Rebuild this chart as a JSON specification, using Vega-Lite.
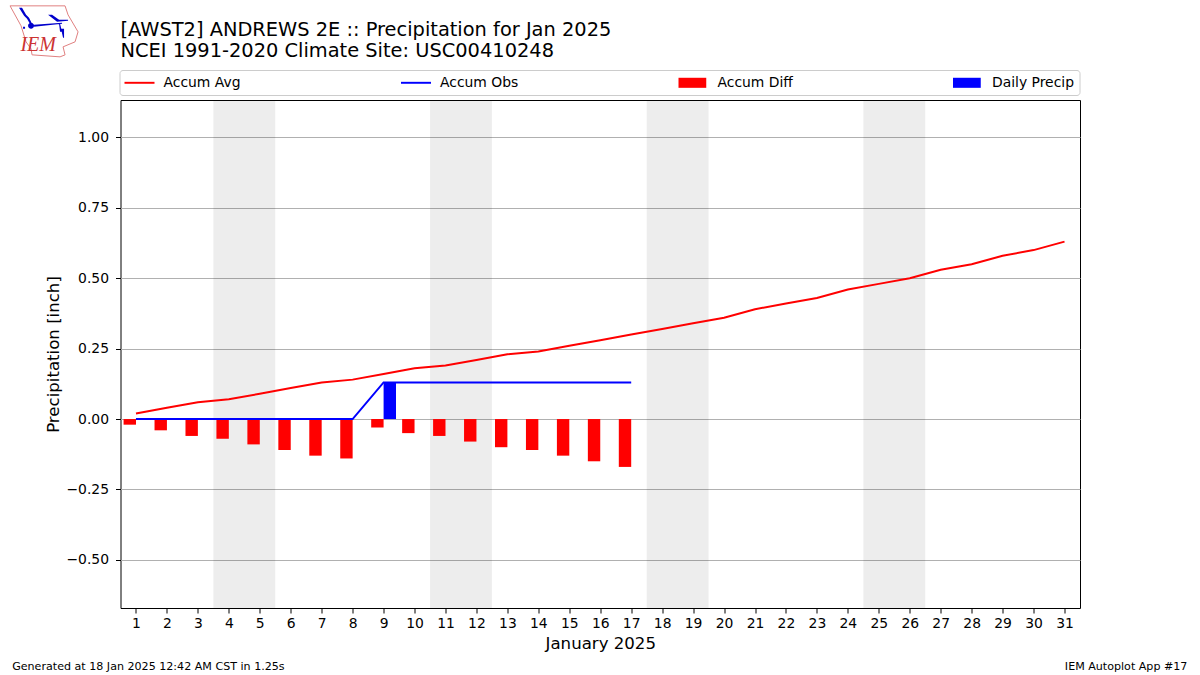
{
"$schema":"https://vega.github.io/schema/vega-lite/v6.json",
"width":959.5,"height":508,
"autosize":{"type":"none"},
"padding":{"left":120.5,"top":100,"right":120,"bottom":67},
"background":"white",
"title":{"text":["[AWST2] ANDREWS 2E :: Precipitation for Jan 2025","NCEI 1991-2020 Climate Site: USC00410248"],"anchor":"start","frame":"group","font":"DejaVu Sans","fontSize":19.4,"fontWeight":"normal","color":"black","lineHeight":21,"offset":-58},
"config":{"view":{"stroke":"black","strokeWidth":1},"font":"DejaVu Sans",
"axis":{"labelFont":"DejaVu Sans","titleFont":"DejaVu Sans","labelFontSize":13.9,"titleFontSize":16.6,"titleFontWeight":"normal","labelColor":"black","titleColor":"black","tickColor":"black","tickSize":5,"tickWidth":1,"labelPadding":3,"domain":false}},
"datasets":{
"spans":[{"start":3.5,"end":5.5},{"start":10.5,"end":12.5},{"start":17.5,"end":19.5},{"start":24.5,"end":26.5}],
"series":[
{"day":1,"series":"Accum Avg","value":0.02},{"day":2,"series":"Accum Avg","value":0.04},{"day":3,"series":"Accum Avg","value":0.06},{"day":4,"series":"Accum Avg","value":0.07},{"day":5,"series":"Accum Avg","value":0.09},{"day":6,"series":"Accum Avg","value":0.11},{"day":7,"series":"Accum Avg","value":0.13},{"day":8,"series":"Accum Avg","value":0.14},{"day":9,"series":"Accum Avg","value":0.16},{"day":10,"series":"Accum Avg","value":0.18},{"day":11,"series":"Accum Avg","value":0.19},{"day":12,"series":"Accum Avg","value":0.21},{"day":13,"series":"Accum Avg","value":0.23},{"day":14,"series":"Accum Avg","value":0.24},{"day":15,"series":"Accum Avg","value":0.26},{"day":16,"series":"Accum Avg","value":0.28},{"day":17,"series":"Accum Avg","value":0.30},{"day":18,"series":"Accum Avg","value":0.32},{"day":19,"series":"Accum Avg","value":0.34},{"day":20,"series":"Accum Avg","value":0.36},{"day":21,"series":"Accum Avg","value":0.39},{"day":22,"series":"Accum Avg","value":0.41},{"day":23,"series":"Accum Avg","value":0.43},{"day":24,"series":"Accum Avg","value":0.46},{"day":25,"series":"Accum Avg","value":0.48},{"day":26,"series":"Accum Avg","value":0.50},{"day":27,"series":"Accum Avg","value":0.53},{"day":28,"series":"Accum Avg","value":0.55},{"day":29,"series":"Accum Avg","value":0.58},{"day":30,"series":"Accum Avg","value":0.60},{"day":31,"series":"Accum Avg","value":0.63},
{"day":1,"series":"Accum Obs","value":0},{"day":2,"series":"Accum Obs","value":0},{"day":3,"series":"Accum Obs","value":0},{"day":4,"series":"Accum Obs","value":0},{"day":5,"series":"Accum Obs","value":0},{"day":6,"series":"Accum Obs","value":0},{"day":7,"series":"Accum Obs","value":0},{"day":8,"series":"Accum Obs","value":0},{"day":9,"series":"Accum Obs","value":0.13},{"day":10,"series":"Accum Obs","value":0.13},{"day":11,"series":"Accum Obs","value":0.13},{"day":12,"series":"Accum Obs","value":0.13},{"day":13,"series":"Accum Obs","value":0.13},{"day":14,"series":"Accum Obs","value":0.13},{"day":15,"series":"Accum Obs","value":0.13},{"day":16,"series":"Accum Obs","value":0.13},{"day":17,"series":"Accum Obs","value":0.13},
{"day":1,"series":"Accum Diff","value":-0.02},{"day":2,"series":"Accum Diff","value":-0.04},{"day":3,"series":"Accum Diff","value":-0.06},{"day":4,"series":"Accum Diff","value":-0.07},{"day":5,"series":"Accum Diff","value":-0.09},{"day":6,"series":"Accum Diff","value":-0.11},{"day":7,"series":"Accum Diff","value":-0.13},{"day":8,"series":"Accum Diff","value":-0.14},{"day":9,"series":"Accum Diff","value":-0.03},{"day":10,"series":"Accum Diff","value":-0.05},{"day":11,"series":"Accum Diff","value":-0.06},{"day":12,"series":"Accum Diff","value":-0.08},{"day":13,"series":"Accum Diff","value":-0.10},{"day":14,"series":"Accum Diff","value":-0.11},{"day":15,"series":"Accum Diff","value":-0.13},{"day":16,"series":"Accum Diff","value":-0.15},{"day":17,"series":"Accum Diff","value":-0.17},
{"day":9,"series":"Daily Precip","value":0.13}
]
},
"data":{"name":"series"},
"encoding":{
"x":{"field":"day","type":"quantitative","scale":{"domain":[0.5,31.5],"nice":false,"zero":false,"padding":0},"axis":{"values":[1,2,3,4,5,6,7,8,9,10,11,12,13,14,15,16,17,18,19,20,21,22,23,24,25,26,27,28,29,30,31],"format":"d","grid":false,"title":"January 2025","titleY":27}},
"y":{"field":"value","type":"quantitative","scale":{"domain":[-0.671,1.133],"nice":false,"zero":false},"axis":{"values":[-0.5,-0.25,0,0.25,0.5,0.75,1],"labelExpr":"replace(format(datum.value,'.2f'),'-','−')","grid":true,"gridColor":"#b0b0b0","gridWidth":1,"labelPadding":7,"title":"Precipitation [inch]","titleX":-59}},
"color":{"field":"series","type":"nominal","scale":{"domain":["Accum Avg","Accum Obs","Accum Diff","Daily Precip"],"range":["#ff0000","#0000ff","#ff0000","#0000ff"]},"legend":{"title":null,"orient":"none","legendX":-1,"legendY":-30,"direction":"horizontal","columns":4,"gridAlign":"each","columnPadding":159.5,"padding":5,"fillColor":"white","strokeColor":"#cccccc","cornerRadius":3,"symbolSize":225,"symbolStrokeWidth":0,"labelOffset":24,"labelFontSize":13.9,"labelFont":"DejaVu Sans","labelColor":"black","values":["Accum Avg","Accum Obs","Accum Diff","Daily Precip"]}}
},
"layer":[
{"data":{"name":"spans"},"mark":{"type":"rect","fill":"#000000","fillOpacity":0.07},"encoding":{"x":{"field":"start","type":"quantitative"},"x2":{"field":"end"},"y":{"value":0},"y2":{"value":508},"color":{"value":"#000000"}}},
{"transform":[{"filter":"datum.series==='Accum Diff'"}],"mark":{"type":"bar","orient":"vertical","width":12.4,"xOffset":-6.2},"encoding":{"y2":{"datum":0}}},
{"transform":[{"filter":"datum.series==='Daily Precip'"}],"mark":{"type":"bar","orient":"vertical","width":12.4,"xOffset":6.2},"encoding":{"y2":{"datum":0}}},
{"transform":[{"filter":"datum.series==='Accum Avg'"}],"mark":{"type":"line","strokeWidth":2}},
{"transform":[{"filter":"datum.series==='Accum Obs'"}],"mark":{"type":"line","strokeWidth":2}},
{"mark":{"type":"point","filled":true,"size":0,"opacity":1},"encoding":{
"shape":{"field":"series","type":"nominal","scale":{"domain":["Accum Avg","Accum Obs","Accum Diff","Daily Precip"],"range":["M-1,-0.13H3V0.13H-1Z","M-1,-0.13H3V0.13H-1Z","M-1,-0.67H2.7V0.67H-1Z","M-1,-0.67H2.7V0.67H-1Z"]},"legend":{"title":null,"orient":"none","legendX":-1,"legendY":-30,"direction":"horizontal","columns":4,"gridAlign":"each","columnPadding":159.5,"padding":5,"fillColor":"white","strokeColor":"#cccccc","cornerRadius":3,"symbolSize":225,"symbolStrokeWidth":0,"labelOffset":24,"labelFontSize":13.9,"labelFont":"DejaVu Sans","labelColor":"black","values":["Accum Avg","Accum Obs","Accum Diff","Daily Precip"]}}
}},
{"transform":[{"filter":"datum.series==='Daily Precip'"}],"mark":{"type":"text","align":"left","baseline":"middle","font":"DejaVu Sans","fontSize":11.1,"text":"Generated at 18 Jan 2025 12:42 AM CST in 1.25s"},"encoding":{"x":{"datum":-3.0},"y":{"datum":-0.88},"color":{"value":"black"}}},
{"transform":[{"filter":"datum.series==='Daily Precip'"}],"mark":{"type":"text","align":"right","baseline":"middle","font":"DejaVu Sans","fontSize":11.1,"text":"IEM Autoplot App #17"},"encoding":{"x":{"datum":34.97},"y":{"datum":-0.88},"color":{"value":"black"}}},
{"transform":[{"filter":"datum.series==='Daily Precip'"}],"mark":{"type":"point","filled":false,"size":4,"strokeWidth":1,"opacity":1,"shape":"M-34,-26L21,-26L24,-17L34,0L31,10L19,15L21,23L16,25L-12,23L-13,17L-18,10L-23,-6Z"},"encoding":{"x":{"datum":-1.97},"y":{"datum":1.375},"color":{"value":"#e08080"}}},
{"transform":[{"filter":"datum.series==='Daily Precip'"}],"mark":{"type":"point","filled":true,"size":4,"opacity":1,"strokeWidth":0,"shape":"M-25,-24L-22,-24L-18,-17L-15,-14L-12,-8L-13,-6L-17,-13L-20,-16ZM-16,-6A3,3 0 1 1 -10,-6A3,3 0 1 1 -16,-6ZM-10,-7L18,-9L18,-8L-10,-5ZM4,-17L8,-17L15,-12L24,-12L24,-11L13,-10ZM15,-8L16,-8L18,0L16,0ZM17,-3L20,-3L20,6L19,6ZM-21,-5L-19,-5L-19,-3L-21,-3Z"},"encoding":{"x":{"datum":-1.97},"y":{"datum":1.375},"color":{"value":"#0000cc"}}},
{"transform":[{"filter":"datum.series==='Daily Precip'"}],"mark":{"type":"text","align":"center","baseline":"middle","font":"Liberation Serif","fontStyle":"italic","fontSize":20,"text":"IEM"},"encoding":{"x":{"datum":-2.16},"y":{"datum":1.33},"color":{"value":"#cc3333"}}}
]
}
